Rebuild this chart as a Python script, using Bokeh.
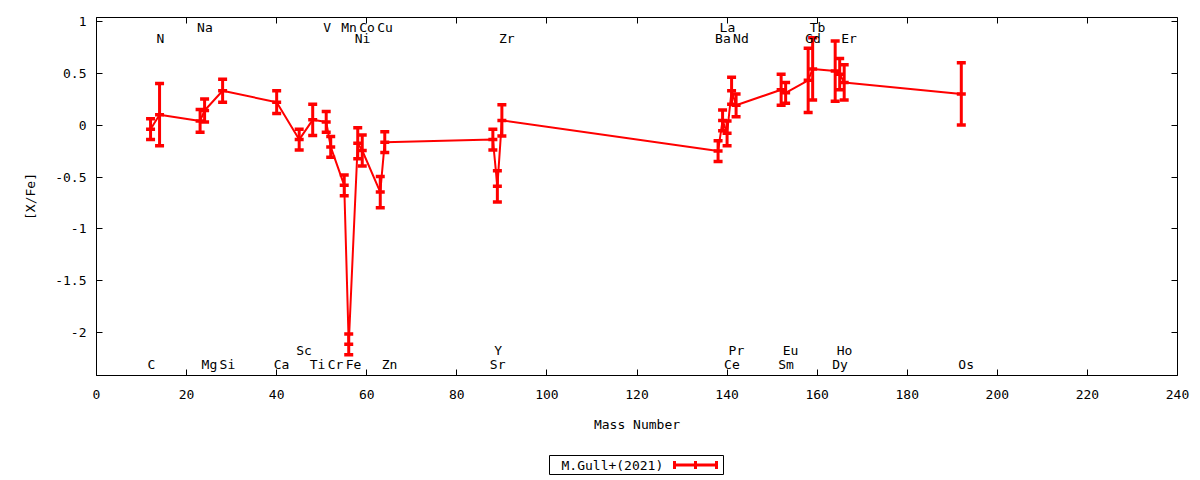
from bokeh.plotting import figure
from bokeh.models import FixedTicker, LinearAxis, Range1d, Spacer, ColumnDataSource
from bokeh.layouts import column, row
from bokeh.embed import file_html
from bokeh.resources import INLINE
from bokeh.core.properties import value

# ---- data ----
elements = ["C", "N", "Na", "Mg", "Si", "Ca", "Sc", "Ti", "V", "Cr", "Mn", "Fe",
            "Ni", "Co", "Cu", "Zn", "Sr", "Y", "Zr", "Ba", "La", "Ce", "Pr", "Nd",
            "Sm", "Eu", "Gd", "Tb", "Dy", "Ho", "Er", "Os"]
mass = [12, 14, 23, 24, 28, 40, 45, 48, 51, 52, 55, 56,
        58, 59, 63, 64, 88, 89, 90, 138, 139, 140, 141, 142,
        152, 153, 158, 159, 164, 165, 166, 192]
abund = [-0.04, 0.10, 0.04, 0.14, 0.33, 0.22, -0.14, 0.05, 0.03, -0.21, -0.58, -2.11,
         -0.175, -0.245, -0.645, -0.165, -0.14, -0.59, 0.045, -0.25, 0.045, -0.08, 0.33, 0.19,
         0.34, 0.31, 0.43, 0.54, 0.52, 0.49, 0.41, 0.30]
err = [0.10, 0.30, 0.11, 0.11, 0.11, 0.11, 0.10, 0.15, 0.10, 0.10, 0.10, 0.10,
       0.15, 0.15, 0.15, 0.10, 0.10, 0.15, 0.15, 0.10, 0.10, 0.12, 0.13, 0.11,
       0.15, 0.10, 0.31, 0.30, 0.29, 0.15, 0.17, 0.30]
# label row of each element: 0/1 = top rows, 2/3 = bottom rows
label_row = [3, 1, 0, 3, 3, 3, 2, 3, 0, 3, 0, 3,
             1, 0, 0, 3, 3, 2, 1, 1, 0, 3, 2, 1,
             3, 2, 1, 0, 3, 2, 1, 3]
row_y = [0.935, 0.83, -2.165, -2.30]

x_ticks = list(range(0, 241, 20))
y_ticks = [-2, -1.5, -1, -0.5, 0, 0.5, 1]
y_tick_labels = ["-2", "-1.5", "-1", "-0.5", "0", "0.5", "1"]
series_name = "M.Gull+(2021)"
x_title = "Mass Number"
y_title = "[X/Fe]"

FONT = "DejaVu Sans Mono"
FS = "13px"
RED = "#ff0000"

lo = [a - e for a, e in zip(abund, err)]
hi = [a + e for a, e in zip(abund, err)]
src = ColumnDataSource(dict(x=mass, y=abund, lo=lo, hi=hi))
lab_src = ColumnDataSource(dict(x=mass, y=[row_y[r] for r in label_row], t=elements))

p = figure(width=1192, height=453, output_backend="svg", toolbar_location=None,
           x_range=Range1d(0, 240), y_range=Range1d(-2.41, 1.035),
           min_border_left=96, min_border_right=15, min_border_top=17, min_border_bottom=78)
p.grid.visible = False
p.outline_line_color = "black"
p.outline_line_width = 1
p.background_fill_color = "white"

# axes
p.xaxis.ticker = FixedTicker(ticks=x_ticks)
p.yaxis.ticker = FixedTicker(ticks=y_ticks)
p.yaxis.major_label_overrides = {t: s for t, s in zip(y_ticks, y_tick_labels)}
p.xaxis.axis_label = x_title
p.yaxis.axis_label = y_title
for ax in (p.xaxis, p.yaxis):
    ax.major_tick_in = 6
    ax.major_tick_out = 0
    ax.minor_tick_line_color = None
    ax.axis_line_color = "black"
    ax.major_tick_line_color = "black"
    ax.major_label_text_font = FONT
    ax.major_label_text_font_size = FS
    ax.major_label_text_color = "black"
    ax.axis_label_text_font = FONT
    ax.axis_label_text_font_size = FS
    ax.axis_label_text_font_style = "normal"
    ax.axis_label_text_color = "black"
p.xaxis.major_label_standoff = 14
p.xaxis.axis_label_standoff = 15
p.yaxis.major_label_standoff = 10
p.yaxis.axis_label_standoff = 14

# mirror ticks (no labels drawn)
top = LinearAxis(ticker=FixedTicker(ticks=x_ticks))
right = LinearAxis(ticker=FixedTicker(ticks=y_ticks))
for ax in (top, right):
    ax.major_tick_in = 6
    ax.major_tick_out = 0
    ax.minor_tick_line_color = None
    ax.axis_line_color = None
    ax.major_tick_line_color = "black"
    ax.major_label_text_color = None
    ax.major_label_text_font_size = "1px"
    ax.major_label_standoff = 0
p.add_layout(top, "above")
p.add_layout(right, "right")

# series
p.line("x", "y", source=src, line_color=RED, line_width=2)
p.segment(x0="x", y0="lo", x1="x", y1="hi", source=src, line_color=RED, line_width=3)
for col in ("lo", "hi", "y"):
    p.scatter("x", col, source=src, marker="dash", size=9, line_color=RED, line_width=3.5)

# element labels
p.text("x", "y", text="t", source=lab_src, text_font=value(FONT), text_font_size=FS,
       text_align="left", text_baseline="middle", x_offset=-3, text_color="black")

# legend box (separate small figure)
lg = figure(width=176, height=22, output_backend="svg", toolbar_location=None,
            x_range=Range1d(0, 174), y_range=Range1d(0, 19),
            min_border_left=1, min_border_right=1, min_border_top=2, min_border_bottom=1)
lg.axis.visible = False
lg.grid.visible = False
lg.outline_line_color = "black"
lg.outline_line_width = 1
lg.text(x=[12], y=[9.5], text=[series_name], text_font=value(FONT), text_font_size=FS,
        text_align="left", text_baseline="middle", text_color="black")
lg.segment(x0=[125], y0=[9.5], x1=[167], y1=[9.5], line_color=RED, line_width=3)
lg.segment(x0=[125, 146, 167], y0=[5.5, 5.5, 5.5], x1=[125, 146, 167], y1=[13.5, 13.5, 13.5],
           line_color=RED, line_width=3)

layout = column(p, row(Spacer(width=548, height=22), lg))
open("out.html", "w").write(file_html(layout, INLINE))
